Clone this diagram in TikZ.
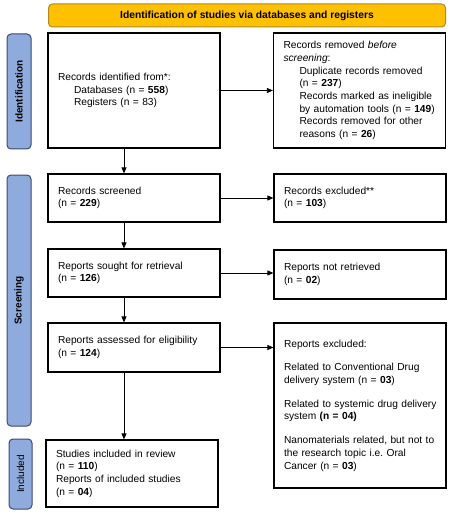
\documentclass[tikz,border=0pt]{standalone}
\usepackage{fontspec}
\setmainfont{Liberation Sans}
\usepackage{tikz}
\usetikzlibrary{arrows.meta}
\definecolor{bannerfill}{HTML}{FFC000}
\definecolor{bannerline}{HTML}{B08A20}
\definecolor{phasefill}{HTML}{8FAADC}
\definecolor{phaseline}{HTML}{3B4A6B}

\begin{document}
\begin{tikzpicture}[x=1pt, y=-1pt,
    font=\fontsize{10.2}{12.7}\selectfont,
    box/.style={draw, line width=1.2pt, align=left, inner xsep=10pt, inner ysep=0pt,
        text width=152pt, minimum height=#1},
    phase/.style={draw=phaseline, fill=phasefill, line width=1pt, rounded corners=4pt,
        minimum width=24pt, minimum height=#1, inner sep=0pt},
    phasetext/.style={rotate=90, font=\fontsize{10}{12}\selectfont\bfseries},
    arr/.style={line width=0.8pt, -{Triangle[length=6pt, width=5pt]}}]
    \useasboundingbox (0,0) rectangle (448,513);
    \node[draw=bannerline, fill=bannerfill, line width=1pt, rounded corners=4pt,
        minimum width=397pt, minimum height=23pt, font=\fontsize{10.3}{12}\selectfont\bfseries]
        (banner) at (247,15.5) {Identification of studies via databases and registers};
    \node[phase=115pt] (idbar) at (19,91.5) {};
    \node[phasetext] at (idbar) {Identification};
    \node[phase=251pt] (scbar) at (19,300.5) {};
    \node[phasetext] at (scbar) {Screening};
    \node[phase=70pt, minimum width=23pt] (inbar) at (20.5,474) {};
    \node[phasetext, font=\fontsize{10}{12}\selectfont] at (inbar) {Included};
    \node[box=115pt] (ident) at (134,90.5) {Records identified from*:\\
        \hspace*{16pt}Databases (n = \textbf{558})\\
        \hspace*{16pt}Registers (n = 83)};
    \node[box=115pt] (removed) at (359.5,90.5) {Records removed \textit{before}\\
        \textit{screening}:\\
        \hspace*{16pt}Duplicate records removed\\
        \hspace*{16pt}(n = \textbf{237})\\
        \hspace*{16pt}Records marked as ineligible\\
        \hspace*{16pt}by automation tools (n = \textbf{149})\\
        \hspace*{16pt}Records removed for other\\
        \hspace*{16pt}reasons (n = \textbf{26})};
    \node[box=48pt] (screen) at (134,198) {Records screened\\(n = \textbf{229})};
    \node[box=48pt] (excl) at (360,198) {Records excluded**\\(n = \textbf{103})};
    \node[box=48pt] (sought) at (134,273) {Reports sought for retrieval\\(n = \textbf{126})};
    \node[box=49pt] (notret) at (360,274.5) {Reports not retrieved\\(n = \textbf{02})};
    \node[box=49pt] (assess) at (134,347.5) {Reports assessed for eligibility\\(n = \textbf{124})};
    \node[box=165pt] (repexcl) at (360,405.5) {Reports excluded:\\[11pt]
        Related to Conventional Drug\\delivery system (n = \textbf{03})\\[11pt]
        \mbox{Related to systemic drug delivery}\\system \textbf{(n = 04)}\\[11pt]
        \mbox{Nanomaterials related, but not to}\\the research topic i.e.\ Oral\\Cancer (n = \textbf{03})};
    \node[box=67pt] (incl) at (132,473.5) {Studies included in review\\(n = \textbf{110})\\
        Reports of included studies\\(n = \textbf{04})};
    \coordinate (spine) at (124,0);
    \draw[arr] (ident.south -| spine) -- (screen.north -| spine);
    \draw[arr] (screen.south -| spine) -- (sought.north -| spine);
    \draw[arr] (sought.south -| spine) -- (assess.north -| spine);
    \draw[arr] (assess.south -| spine) -- (incl.north -| spine);
    \draw[arr] (ident.east) -- (ident.east -| removed.west);
    \draw[arr] (screen.east) -- (screen.east -| excl.west);
    \draw[arr] (sought.east) -- (sought.east -| notret.west);
    \draw[arr] (assess.east) -- (assess.east -| repexcl.west);
\end{tikzpicture}
\end{document}
